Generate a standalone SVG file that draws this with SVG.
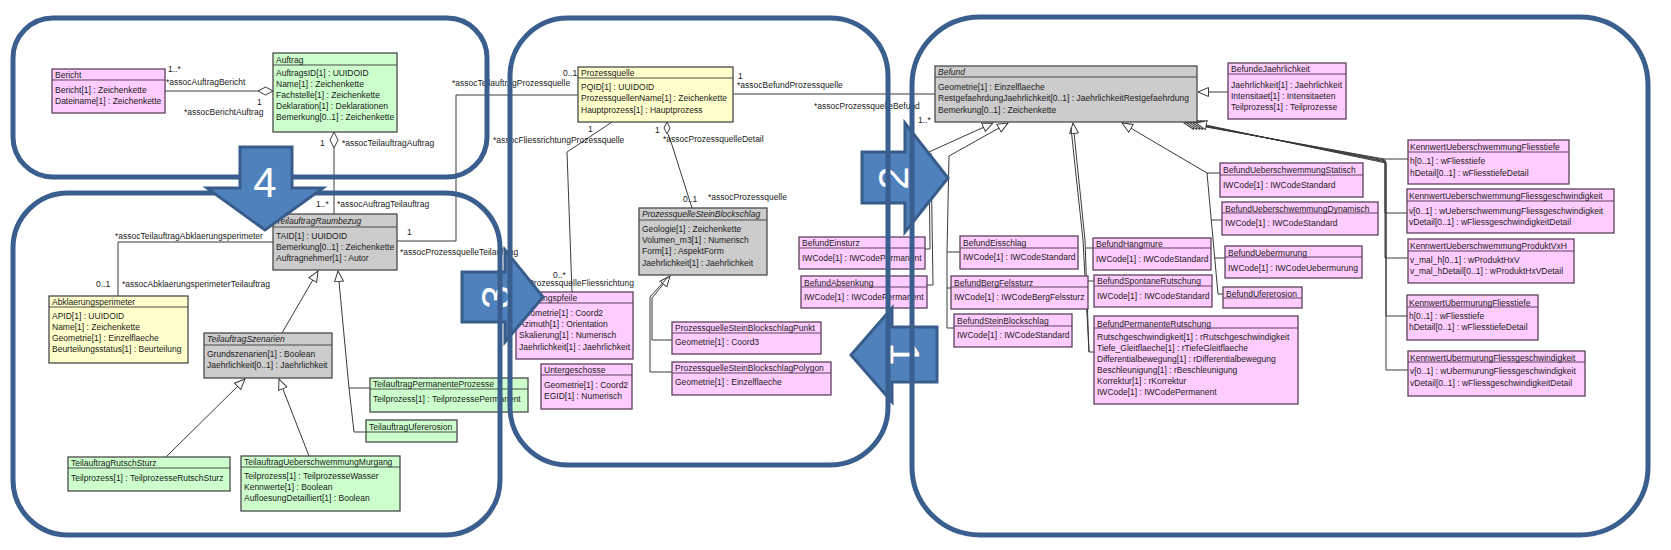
<svg xmlns="http://www.w3.org/2000/svg" width="1671" height="550" viewBox="0 0 1671 550">
<style>
text{font-family:"Liberation Sans",Arial,sans-serif;font-size:8.5px;fill:#1a1a1a}
.it{font-style:italic}
.box rect{stroke:#4a4a4a;stroke-width:1.3}
.pink rect{fill:#FFCCFF;stroke:#5e405e}
.green rect{fill:#CCFFCC}
.yellow rect{fill:#FFFFCC}
.gray rect{fill:#CCCCCC}
.box line{stroke:#4a4a4a;stroke-width:1.1}
.pink line{stroke:#5e405e}
.conn path,.conn line,.conn polyline{fill:none;stroke:#3a3a3a;stroke-width:1}
.dia{fill:#fff;stroke:#3a3a3a;stroke-width:1}
.panel{fill:none;stroke:#3A5F8E;stroke-width:5}
.arrow{fill:#4F81BD;stroke:#385D8A;stroke-width:3}
.num{font-family:"Liberation Sans",Arial,sans-serif;font-size:42px;fill:#fff;text-anchor:middle;dominant-baseline:central}
</style>
<defs>
<marker id="gen" markerUnits="userSpaceOnUse" markerWidth="12" markerHeight="11" refX="11" refY="5" orient="auto" viewBox="0 0 12 11">
<path d="M0.5,0.5 L11,5 L0.5,9.5 z" fill="#fff" stroke="#3a3a3a" stroke-width="1"/>
</marker>
</defs>
<rect width="1671" height="550" fill="#fff"/>

<g id="connectors" class="conn">
<line x1="165" y1="91" x2="258" y2="91"/>
<polygon class="dia" points="258,91 265.5,87 273,91 265.5,95"/>
<line x1="334" y1="148" x2="334" y2="214"/>
<polygon class="dia" points="334,132 338,140 334,148 330,140"/>
<polyline points="273,242 118,242 118,296"/>
<polyline points="397,241 456,241 456,95 578,95"/>
<line x1="733" y1="94" x2="935" y2="94"/>
<polyline points="612,122 567,152 572,292"/>
<polygon class="dia" points="667,122 670,128 667,134 664,128"/>
<polyline points="668,134 672,145 692,208"/>
<path d="M672,340 L652,340 L652,298 L670,276" marker-end="url(#gen)"/>
<path d="M672,372 L650,372 L650,297 L668,277"/>
<path d="M282,333 L318,271" marker-end="url(#gen)"/>
<path d="M370,388 L349,388 L338,271" marker-end="url(#gen)"/>
<path d="M366,432 L354,432 L349,388"/>
<path d="M166,457 L245,379" marker-end="url(#gen)"/>
<path d="M309,456 L279,379" marker-end="url(#gen)"/>
<path d="M1228,92 L1198,92" marker-end="url(#gen)"/>
<path d="M925,249 L930,249 L929,152 L993,123" marker-end="url(#gen)"/>
<path d="M927,285 L933,285 L931,153"/>
<path d="M960,252 L947,252 L949,156 L1008,123" marker-end="url(#gen)"/>
<path d="M951,288 L947,288 L947,252"/>
<path d="M954,328 L947,328 L947,288"/>
<path d="M1094,352 L1089,352 L1085,240 L1073,123" marker-end="url(#gen)"/>
<path d="M1093,248 L1086,248"/>
<path d="M1094,281 L1087,281"/>
<path d="M1089,352 L1083,240 L1071,128"/>
<path d="M1220,173 L1207,173 L1122,123" marker-end="url(#gen)"/>
<path d="M1222,220 L1211,220"/>
<path d="M1225,258 L1214,258"/>
<path d="M1223,294 L1218,294 L1207,173"/>
<path d="M1408,159 L1384,159 L1184,123" marker-end="url(#gen)"/>
<path d="M1407,213 L1385,213 L1385,160 L1187,123" marker-end="url(#gen)"/>
<path d="M1408,258 L1385,258 L1385,161 L1190,123" marker-end="url(#gen)"/>
<path d="M1407,316 L1386,316 L1386,162 L1193,123" marker-end="url(#gen)"/>
<path d="M1408,370 L1386,370 L1386,163 L1196,123" marker-end="url(#gen)"/>
</g>

<g id="connector-labels">
<text x="168" y="72">1..*</text>
<text x="166" y="85">*assocAuftragBericht</text>
<text x="257" y="105">1</text>
<text x="184" y="115">*assocBerichtAuftrag</text>
<text x="320" y="146">1</text>
<text x="342" y="146">*assocTeilauftragAuftrag</text>
<text x="316" y="207">1..*</text>
<text x="337" y="207">*assocAuftragTeilauftrag</text>
<text x="115" y="239">*assocTeilauftragAbklaerungsperimeter</text>
<text x="96" y="287">0..1</text>
<text x="122" y="287">*assocAbklaerungsperimeterTeilauftrag</text>
<text x="407" y="235">1</text>
<text x="400" y="255">*assocProzessquelleTeilauftrag</text>
<text x="563" y="76">0..1</text>
<text x="452" y="86">*assocTeilauftragProzessquelle</text>
<text x="738" y="79">1</text>
<text x="737" y="88">*assocBefundProzessquelle</text>
<text x="814" y="109">*assocProzessquelleBefund</text>
<text x="918" y="123">1..*</text>
<text x="588" y="132">1</text>
<text x="493" y="143">*assocFliessrichtungProzessquelle</text>
<text x="553" y="278">0..*</text>
<text x="634" y="286" text-anchor="end">*assocProzessquelleFliessrichtung</text>
<text x="655" y="133">1</text>
<text x="663" y="142">*assocProzessquelleDetail</text>
<text x="683" y="202">0..1</text>
<text x="708" y="200">*assocProzessquelle</text>
</g>

<g id="Bericht" class="box pink"><rect x="52" y="69" width="113" height="44"/><line x1="52" y1="80" x2="165" y2="80"/>
<text x="55" y="77.5">Bericht</text><text x="55" y="92.5">Bericht[1] : Zeichenkette</text><text x="55" y="103.5">Dateiname[1] : Zeichenkette</text></g>

<g id="Auftrag" class="box green"><rect x="273" y="53" width="124" height="79"/><line x1="273" y1="65" x2="397" y2="65"/>
<text x="276" y="62.5">Auftrag</text><text x="276" y="76">AuftragsID[1] : UUIDOID</text><text x="276" y="87">Name[1] : Zeichenkette</text><text x="276" y="98">Fachstelle[1] : Zeichenkette</text><text x="276" y="109">Deklaration[1] : Deklarationen</text><text x="276" y="120">Bemerkung[0..1] : Zeichenkette</text></g>

<g id="TeilauftragRaumbezug" class="box gray"><rect x="273" y="214" width="124" height="56"/><line x1="273" y1="227" x2="397" y2="227"/>
<text class="it" x="276" y="224">TeilauftragRaumbezug</text><text x="276" y="238.5">TAID[1] : UUIDOID</text><text x="276" y="249.5">Bemerkung[0..1] : Zeichenkette</text><text x="276" y="260.5">Auftragnehmer[1] : Autor</text></g>

<g id="Abklaerungsperimeter" class="box yellow"><rect x="49" y="296" width="139" height="67"/><line x1="49" y1="307" x2="188" y2="307"/>
<text x="52" y="305">Abklaerungsperimeter</text><text x="52" y="319">APID[1] : UUIDOID</text><text x="52" y="330">Name[1] : Zeichenkette</text><text x="52" y="341">Geometrie[1] : Einzelflaeche</text><text x="52" y="352">Beurteilungsstatus[1] : Beurteilung</text></g>

<g id="TeilauftragSzenarien" class="box gray"><rect x="204" y="333" width="128" height="45"/><line x1="204" y1="345" x2="332" y2="345"/>
<text class="it" x="207" y="342">TeilauftragSzenarien</text><text x="207" y="356.5">Grundszenarien[1] : Boolean</text><text x="207" y="367.5">Jaehrlichkeit[0..1] : Jaehrlichkeit</text></g>

<g id="TeilauftragPermanenteProzesse" class="box green"><rect x="370" y="378" width="158" height="34"/><line x1="370" y1="389" x2="528" y2="389"/>
<text x="373" y="387">TeilauftragPermanenteProzesse</text><text x="373" y="401.5">Teilprozess[1] : TeilprozessePermanent</text></g>

<g id="TeilauftragUfererosion" class="box green"><rect x="366" y="420" width="91" height="22"/><line x1="366" y1="432" x2="457" y2="432"/>
<text x="369" y="429.5">TeilauftragUfererosion</text></g>

<g id="TeilauftragRutschSturz" class="box green"><rect x="68" y="457" width="162" height="34"/><line x1="68" y1="468" x2="230" y2="468"/>
<text x="71" y="466">TeilauftragRutschSturz</text><text x="71" y="481">Teilprozess[1] : TeilprozesseRutschSturz</text></g>

<g id="TeilauftragUeberschwemmungMurgang" class="box green"><rect x="241" y="456" width="159" height="55"/><line x1="241" y1="467" x2="400" y2="467"/>
<text x="244" y="465">TeilauftragUeberschwemmungMurgang</text><text x="244" y="479">Teilprozess[1] : TeilprozesseWasser</text><text x="244" y="490">Kennwerte[1] : Boolean</text><text x="244" y="501">AufloesungDetailliert[1] : Boolean</text></g>

<g id="Prozessquelle" class="box yellow"><rect x="578" y="67" width="155" height="55"/><line x1="578" y1="78" x2="733" y2="78"/>
<text x="581" y="75.5">Prozessquelle</text><text x="581" y="90">PQID[1] : UUIDOID</text><text x="581" y="101">ProzessquellenName[1] : Zeichenkette</text><text x="581" y="112.5">Hauptprozess[1] : Hauptprozess</text></g>

<g id="ProzessquelleSteinBlockschlag" class="box gray"><rect x="639" y="208" width="128" height="67"/><line x1="639" y1="220" x2="767" y2="220"/>
<text class="it" x="642" y="217">ProzessquelleSteinBlockschlag</text><text x="642" y="232">Geologie[1] : Zeichenkette</text><text x="642" y="243">Volumen_m3[1] : Numerisch</text><text x="642" y="254">Form[1] : AspektForm</text><text x="642" y="265.5">Jaehrlichkeit[1] : Jaehrlichkeit</text></g>

<g id="Richtungspfeile" class="box pink"><rect x="516" y="292" width="117" height="67"/><line x1="516" y1="303" x2="633" y2="303"/>
<text x="519" y="301">Richtungspfeile</text><text x="519" y="316">Geometrie[1] : Coord2</text><text x="519" y="327">Azimuth[1] : Orientation</text><text x="519" y="338">Skalierung[1] : Numerisch</text><text x="519" y="349.5">Jaehrlichkeit[1] : Jaehrlichkeit</text></g>

<g id="Untergeschosse" class="box pink"><rect x="541" y="364" width="91" height="45"/><line x1="541" y1="375" x2="632" y2="375"/>
<text x="544" y="373">Untergeschosse</text><text x="544" y="388">Geometrie[1] : Coord2</text><text x="544" y="399">EGID[1] : Numerisch</text></g>

<g id="ProzessquelleSteinBlockschlagPunkt" class="box pink"><rect x="672" y="322" width="149" height="32"/><line x1="672" y1="333" x2="821" y2="333"/>
<text x="675" y="331">ProzessquelleSteinBlockschlagPunkt</text><text x="675" y="345">Geometrie[1] : Coord3</text></g>

<g id="ProzessquelleSteinBlockschlagPolygon" class="box pink"><rect x="672" y="362" width="159" height="33"/><line x1="672" y1="373" x2="831" y2="373"/>
<text x="675" y="371">ProzessquelleSteinBlockschlagPolygon</text><text x="675" y="385">Geometrie[1] : Einzelflaeche</text></g>

<g id="Befund" class="box gray"><rect x="935" y="66" width="262" height="56"/><line x1="935" y1="77" x2="1197" y2="77"/>
<text class="it" x="938" y="75">Befund</text><text x="938" y="90">Geometrie[1] : Einzelflaeche</text><text x="938" y="101">RestgefaehrdungJaehrlichkeit[0..1] : JaehrlichkeitRestgefaehrdung</text><text x="938" y="112.5">Bemerkung[0..1] : Zeichenkette</text></g>

<g id="BefundeJaehrlichkeit" class="box pink"><rect x="1228" y="63" width="118" height="56"/><line x1="1228" y1="74" x2="1346" y2="74"/>
<text x="1231" y="72">BefundeJaehrlichkeit</text><text x="1231" y="87.5">Jaehrlichkeit[1] : Jaehrlichkeit</text><text x="1231" y="98.5">Intensitaet[1] : Intensitaeten</text><text x="1231" y="109.5">Teilprozess[1] : Teilprozesse</text></g>

<g id="BefundEinsturz" class="box pink"><rect x="799" y="237" width="126" height="32"/><line x1="799" y1="248" x2="925" y2="248"/>
<text x="802" y="246">BefundEinsturz</text><text x="802" y="260.5">IWCode[1] : IWCodePermanent</text></g>

<g id="BefundAbsenkung" class="box pink"><rect x="801" y="276" width="126" height="32"/><line x1="801" y1="287" x2="927" y2="287"/>
<text x="804" y="285.5">BefundAbsenkung</text><text x="804" y="299.5">IWCode[1] : IWCodePermanent</text></g>

<g id="BefundEisschlag" class="box pink"><rect x="960" y="236" width="118" height="33"/><line x1="960" y1="248" x2="1078" y2="248"/>
<text x="963" y="245.5">BefundEisschlag</text><text x="963" y="259.5">IWCode[1] : IWCodeStandard</text></g>

<g id="BefundBergFelssturz" class="box pink"><rect x="951" y="276" width="137" height="33"/><line x1="951" y1="287" x2="1088" y2="287"/>
<text x="954" y="285.5">BefundBergFelssturz</text><text x="954" y="300">IWCode[1] : IWCodeBergFelssturz</text></g>

<g id="BefundSteinBlockschlag" class="box pink"><rect x="954" y="314" width="118" height="33"/><line x1="954" y1="326" x2="1072" y2="326"/>
<text x="957" y="323.5">BefundSteinBlockschlag</text><text x="957" y="337.5">IWCode[1] : IWCodeStandard</text></g>

<g id="BefundHangmure" class="box pink"><rect x="1093" y="238" width="118" height="32"/><line x1="1093" y1="248" x2="1211" y2="248"/>
<text x="1096" y="246.5">BefundHangmure</text><text x="1096" y="261.5">IWCode[1] : IWCodeStandard</text></g>

<g id="BefundSpontaneRutschung" class="box pink"><rect x="1094" y="275" width="118" height="32"/><line x1="1094" y1="286" x2="1212" y2="286"/>
<text x="1097" y="284">BefundSpontaneRutschung</text><text x="1097" y="298.5">IWCode[1] : IWCodeStandard</text></g>

<g id="BefundPermanenteRutschung" class="box pink"><rect x="1094" y="316" width="204" height="88"/><line x1="1094" y1="328" x2="1298" y2="328"/>
<text x="1097" y="326.5">BefundPermanenteRutschung</text><text x="1097" y="339.5">Rutschgeschwindigkeit[1] : rRutschgeschwindigkeit</text><text x="1097" y="351">Tiefe_Gleitflaeche[1] : rTiefeGleitflaeche</text><text x="1097" y="362">Differentialbewegung[1] : rDifferentialbewegung</text><text x="1097" y="373">Beschleunigung[1] : rBeschleunigung</text><text x="1097" y="384">Korrektur[1] : rKorrektur</text><text x="1097" y="395">IWCode[1] : IWCodePermanent</text></g>

<g id="BefundUeberschwemmungStatisch" class="box pink"><rect x="1220" y="163" width="143" height="34"/><line x1="1220" y1="175" x2="1363" y2="175"/>
<text x="1223" y="173">BefundUeberschwemmungStatisch</text><text x="1223" y="187.5">IWCode[1] : IWCodeStandard</text></g>

<g id="BefundUeberschwemmungDynamisch" class="box pink"><rect x="1222" y="202" width="156" height="33"/><line x1="1222" y1="213" x2="1378" y2="213"/>
<text x="1225" y="211.5">BefundUeberschwemmungDynamisch</text><text x="1225" y="226">IWCode[1] : IWCodeStandard</text></g>

<g id="BefundUebermurung" class="box pink"><rect x="1225" y="246" width="137" height="32"/><line x1="1225" y1="257" x2="1362" y2="257"/>
<text x="1228" y="255.5">BefundUebermurung</text><text x="1228" y="270.5">IWCode[1] : IWCodeUebermurung</text></g>

<g id="BefundUfererosion" class="box pink"><rect x="1223" y="287" width="79" height="21"/><line x1="1223" y1="298" x2="1302" y2="298"/>
<text x="1226" y="296.5">BefundUfererosion</text></g>

<g id="KennwertUeberschwemmungFliesstiefe" class="box pink"><rect x="1408" y="140" width="161" height="44"/><line x1="1408" y1="152" x2="1569" y2="152"/>
<text x="1410" y="149.5">KennwertUeberschwemmungFliesstiefe</text><text x="1410" y="164">h[0..1] : wFliesstiefe</text><text x="1410" y="175.5">hDetail[0..1] : wFliesstiefeDetail</text></g>

<g id="KennwertUeberschwemmungFliessgeschwindigkeit" class="box pink"><rect x="1407" y="189" width="207" height="44"/><line x1="1407" y1="201" x2="1614" y2="201"/>
<text x="1409" y="198.5">KennwertUeberschwemmungFliessgeschwindigkeit</text><text x="1409" y="213.5">v[0..1] : wUeberschwemmungFliessgeschwindigkeit</text><text x="1409" y="224.5">vDetail[0..1] : wFliessgeschwindigkeitDetail</text></g>

<g id="KennwertUeberschwemmungProduktVxH" class="box pink"><rect x="1408" y="239" width="166" height="44"/><line x1="1408" y1="251" x2="1574" y2="251"/>
<text x="1410" y="248.5">KennwertUeberschwemmungProduktVxH</text><text x="1410" y="263">v_mal_h[0..1] : wProduktHxV</text><text x="1410" y="274">v_mal_hDetail[0..1] : wProduktHxVDetail</text></g>

<g id="KennwertUbermurungFliesstiefe" class="box pink"><rect x="1407" y="295" width="131" height="45"/><line x1="1407" y1="307" x2="1538" y2="307"/>
<text x="1409" y="305.5">KennwertUbermurungFliesstiefe</text><text x="1409" y="319">h[0..1] : wFliesstiefe</text><text x="1409" y="330">hDetail[0..1] : wFliesstiefeDetail</text></g>

<g id="KennwertUbermurungFliessgeschwindigkeit" class="box pink"><rect x="1408" y="351" width="177" height="45"/><line x1="1408" y1="362" x2="1585" y2="362"/>
<text x="1410" y="360.5">KennwertUbermurungFliessgeschwindigkeit</text><text x="1410" y="374">v[0..1] : wUbermurungFliessgeschwindigkeit</text><text x="1410" y="385.5">vDetail[0..1] : wFliessgeschwindigkeitDetail</text></g>

<g id="arrow3"><polygon class="arrow" points="462,272 505,272 505,250 543,297 505,342 505,322 462,322"/><text class="num" transform="rotate(-90 496 297)" x="496" y="297">3</text></g>
<g id="arrow2"><polygon class="arrow" points="862,152 905,152 905,123 948,178 905,232 905,203 862,203"/><text class="num" transform="rotate(-90 893 178)" x="893" y="178">2</text></g>
<g id="arrow1"><polygon class="arrow" points="937,327 892,327 892,308 851,355 892,402 892,382 937,382"/><text class="num" transform="rotate(90 904 354)" x="904" y="354">1</text></g>

<g id="panels">
<rect class="panel" x="13" y="18" width="474" height="159" rx="40" ry="40"/>
<rect class="panel" x="13" y="193" width="487" height="342" rx="55" ry="55"/>
<rect class="panel" x="510" y="18" width="378" height="447" rx="58" ry="58"/>
<rect class="panel" x="912" y="17" width="736" height="518" rx="68" ry="68"/>
</g>

<g id="arrow4"><polygon class="arrow" points="240,147 292,147 292,188 323,188 265,230 207,188 240,188"/><text class="num" x="265" y="182">4</text></g>
</svg>
